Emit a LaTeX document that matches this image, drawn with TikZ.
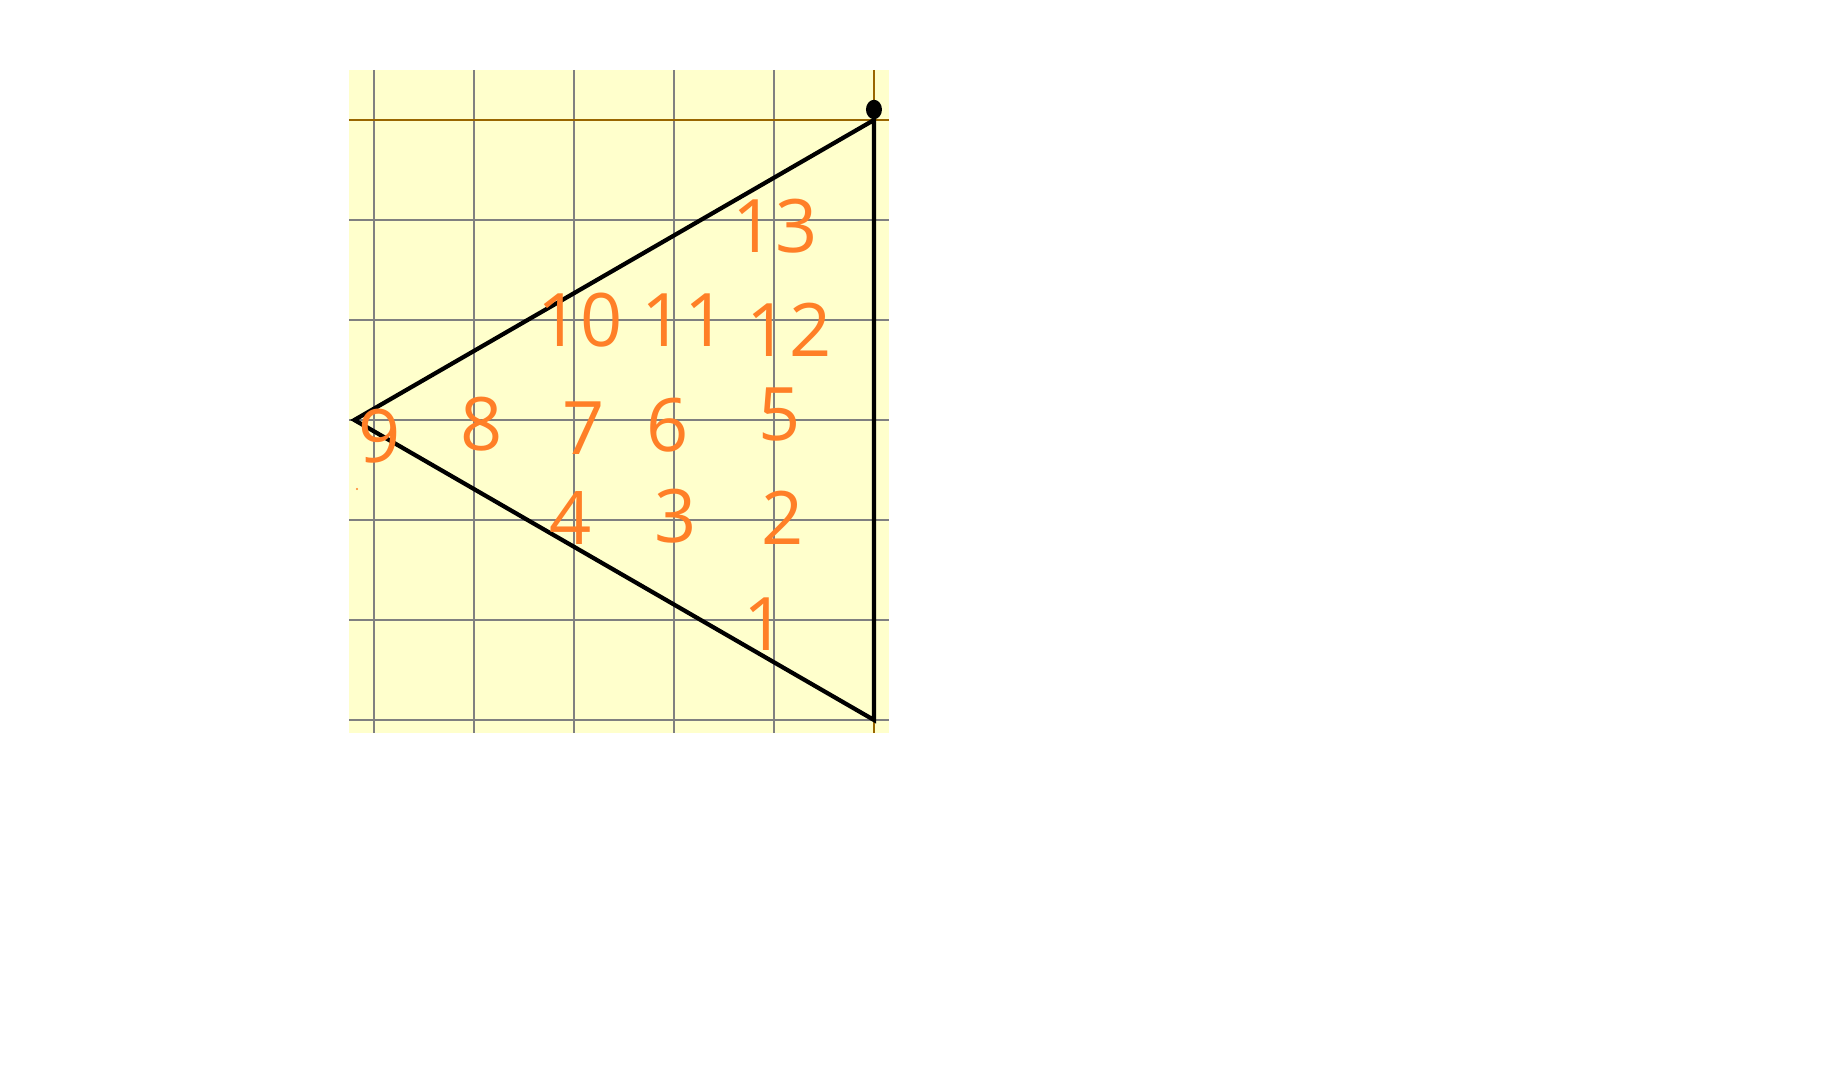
\documentclass[tikz,border=0pt]{standalone}
\usepackage{fontspec}
\setmainfont{Open Sans}
\definecolor{paper}{HTML}{FFFFCC}
\definecolor{gridgrey}{HTML}{808080}
\definecolor{axisbrown}{HTML}{996600}
\definecolor{penorange}{HTML}{FF7F27}
\tikzset{
  gridline/.style={draw=gridgrey,line width=0.55pt},
  axisline/.style={draw=axisbrown,line width=0.65pt},
  tri/.style={draw=black,line width=1.2pt,line join=miter},
  num/.style={text=penorange,font=\fontsize{21}{21}\selectfont,inner sep=0pt,anchor=center}
}
\begin{document}
\begin{tikzpicture}[x=1cm,y=1cm]
\useasboundingbox[fill=white] (-8.74,1.20) rectangle (9.50,-9.54);
\fill[paper] (-5.25,0.50) rectangle (0.15,-6.13);
\foreach \x in {-5,...,-1} \draw[gridline] (\x,0.5) -- (\x,-6.13);
\foreach \y in {-1,...,-6} \draw[gridline] (-5.25,\y) -- (0.15,\y);
\draw[axisline] (-5.25,0) -- (0.15,0);
\draw[axisline] (0,0.5) -- (0,-6.13);
\coordinate (A) at (0,0);
\coordinate (B) at (0,-6);
\coordinate (C) at ({-3*sqrt(3)},-3);
\draw[tri] (A) -- (B) -- (C) -- cycle;
\fill[black] (0,0.105) ellipse [x radius=0.08, y radius=0.097];
\node[num] (n13) at (-0.99,-1.06) {13};
\node[num] (n10) at (-2.94,-2.00) {10};
\node[num] (n11) at (-1.90,-2.00) {11};
\node[num] (n12) at (-0.85,-2.10) {12};
\node[num] (n9) at (-4.94,-3.16) {9};
\node[num] (n8) at (-3.92,-3.04) {8};
\node[num] (n7) at (-2.90,-3.08) {7};
\node[num] (n6) at (-2.06,-3.05) {6};
\node[num] (n5) at (-0.94,-2.95) {5};
\node[num] (n4) at (-3.03,-3.98) {4};
\node[num] (n3) at (-1.98,-3.96) {3};
\node[num] (n2) at (-0.91,-3.98) {2};
\node[num] (n1) at (-1.09,-5.04) {1};
\fill[penorange] (-5.17,-3.69) circle [radius=0.012];
\end{tikzpicture}
\end{document}
